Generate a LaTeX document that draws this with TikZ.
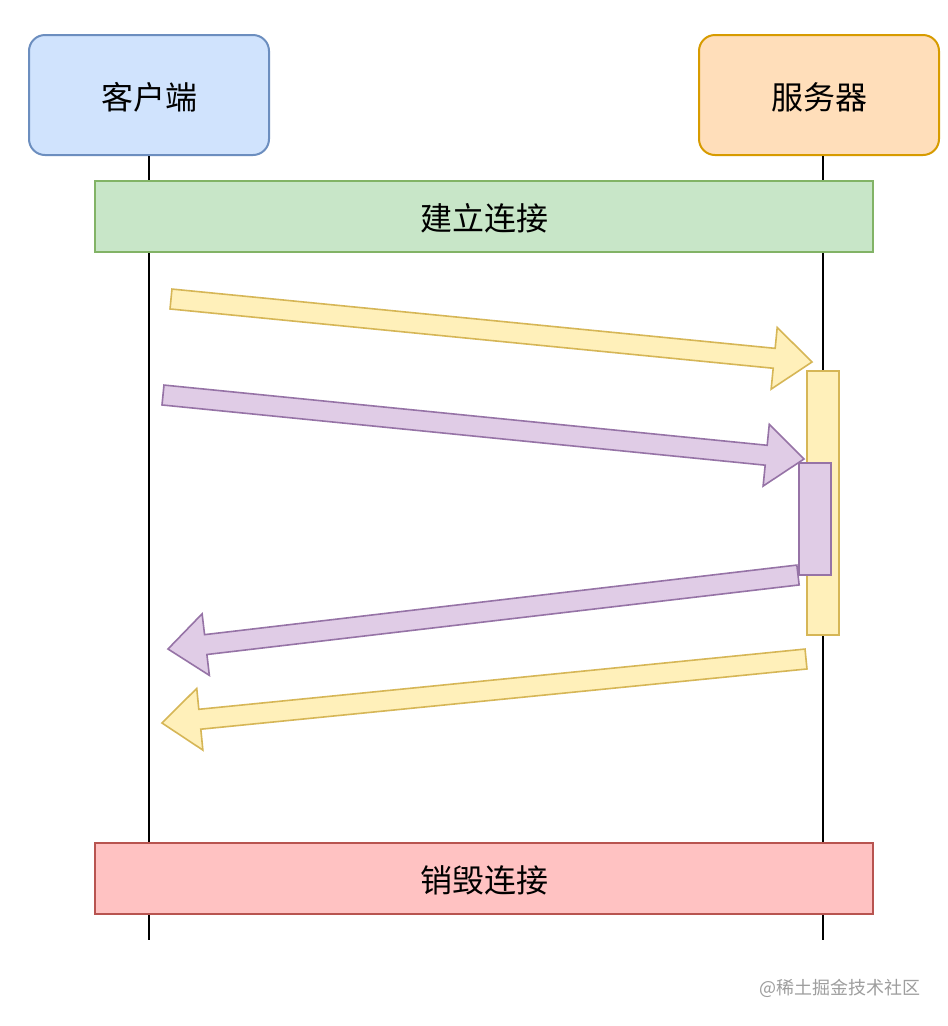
\documentclass[tikz,border=0pt]{standalone}
\usepackage{fontspec}
\setmainfont{Noto Sans CJK SC}
\usetikzlibrary{calc}
\definecolor{cliFill}{HTML}{D0E3FD}
\definecolor{cliDraw}{HTML}{6C8EBF}
\definecolor{srvFill}{HTML}{FFDEBA}
\definecolor{srvDraw}{HTML}{D79B00}
\definecolor{grnFill}{HTML}{C8E6C8}
\definecolor{grnDraw}{HTML}{82B366}
\definecolor{redFill}{HTML}{FFC2C2}
\definecolor{redDraw}{HTML}{B85450}
\definecolor{ylwFill}{HTML}{FFF0BA}
\definecolor{ylwDraw}{HTML}{D6B656}
\definecolor{prpFill}{HTML}{E0CCE6}
\definecolor{prpDraw}{HTML}{9673A6}
\newcommand{\blockarrow}[3]{%
  \coordinate (hb) at ($(#2)!28.5pt!(#1)$);
  \draw[#3] ($(#1)!7.5pt!90:(#2)$) -- ($(hb)!7.5pt!-90:(#1)$) -- ($(hb)!23.25pt!-90:(#1)$) -- (#2)
    -- ($(hb)!23.25pt!90:(#1)$) -- ($(hb)!7.5pt!90:(#1)$) -- ($(#1)!7.5pt!-90:(#2)$) -- cycle;}
\begin{document}
\begin{tikzpicture}[x=0.75pt,y=-0.75pt,
  lbl/.style={font=\fontsize{24}{28}\selectfont, text=black, text height=21pt, text depth=0pt},
  actor/.style={draw, line width=1.5pt, rounded corners=12pt, minimum width=180pt, minimum height=90pt, inner sep=0pt, lbl},
  phase/.style={draw, line width=1.5pt, minimum width=583.5pt, minimum height=53.25pt, inner sep=0pt, lbl},
  actbar/.style={draw, line width=1.5pt, minimum width=24pt, inner sep=0pt},
  lifeline/.style={draw=black, line width=1.5pt},
  yarrow/.style={fill=ylwFill, draw=ylwDraw, line width=1.2pt, line join=miter},
  parrow/.style={fill=prpFill, draw=prpDraw, line width=1.2pt, line join=miter}]
\useasboundingbox (0,0) rectangle (948,1026);
\fill[white] (0,0) rectangle (948,1026);
% actors
\node[actor, fill=cliFill, draw=cliDraw] (client) at (149,95) {客户端};
\node[actor, fill=srvFill, draw=srvDraw] (server) at (819,95) {服务器};
\coordinate (cend) at (149,940);
\coordinate (send) at (823,940);
\draw[lifeline] (client.south) -- (cend);
\draw[lifeline] (server.south -| send) -- (send);
% phases
\node[phase, fill=grnFill, draw=grnDraw] (open) at (484,216.5) {建立连接};
\node[phase, fill=redFill, draw=redDraw] (close) at (484,878.5) {销毁连接};
% activation bars
\node[actbar, fill=ylwFill, draw=ylwDraw, minimum height=198pt] (act1) at (823,503) {};
\node[actbar, fill=prpFill, draw=prpDraw, minimum height=84pt] (act2) at (814.5,519) {};
% arrows
\coordinate (a1s) at (171,299); \coordinate (a1e) at (812,362);
\coordinate (a2s) at (163,395); \coordinate (a2e) at (804,459);
\coordinate (a3s) at (798,575); \coordinate (a3e) at (168,649);
\coordinate (a4s) at (806,659); \coordinate (a4e) at (162,723);
\blockarrow{a1s}{a1e}{yarrow}
\blockarrow{a2s}{a2e}{parrow}
\blockarrow{a3s}{a3e}{parrow}
\blockarrow{a4s}{a4e}{yarrow}
% watermark
\node[font=\fontsize{13.5}{16}\selectfont, text=black!38, anchor=east] (wm) at (925,988) {@稀土掘金技术社区};
\end{tikzpicture}
\end{document}
